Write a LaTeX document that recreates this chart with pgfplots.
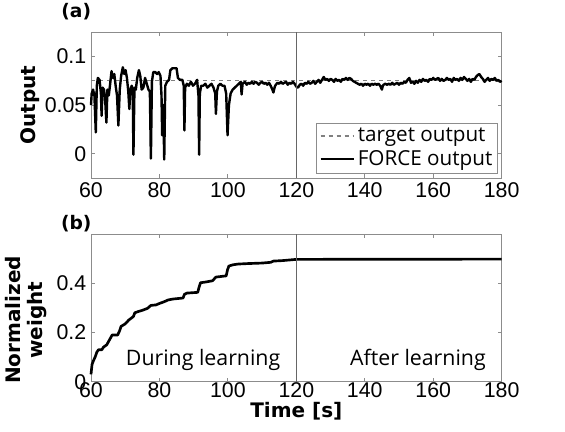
\documentclass[border=0pt]{standalone}
\usepackage{fontspec}
\setmainfont{Liberation Sans}
\newfontfamily\labelfont{Open Sans}
\newfontfamily\boldlabel{DejaVu Sans}
\usepackage{pgfplots}
\pgfplotsset{compat=1.18}

\definecolor{boxgray}{gray}{0.55}
\definecolor{divgray}{gray}{0.4}

\pgfplotsset{
  panel/.style={
    scale only axis, width=308pt, clip=false,
    xmin=60, xmax=180, xtick={60,80,...,180},
    axis line style={boxgray, line width=0.6pt},
    tick style={boxgray, line width=0.6pt},
    major tick length=3pt, tick align=inside,
    tick label style={font=\fontsize{16}{18}\selectfont},
    /pgf/number format/assume math mode=true,
    every axis y label/.style={at={(axis description cs:-0.148,0.5)}, rotate=90, anchor=center},
    label style={font=\boldlabel\bfseries\fontsize{15}{16}\selectfont},
  },
}

\begin{document}
\begin{tikzpicture}
\path[use as bounding box] (0,0) rectangle (423.75pt,-324pt);

% (a) output
\begin{axis}[panel, at={(68.25pt,-133.5pt)}, anchor=south west,
    height=109.3pt,
    ymin=-0.025, ymax=0.125, ytick={0,0.05,0.1},
    yticklabels={0,0.05,0.1},
    ylabel={Output},
    legend style={at={(axis description cs:0.991,0.034)}, anchor=south east,
      draw=boxgray, font=\labelfont\fontsize{15.5}{17}\selectfont,
      inner sep=2pt, row sep=1pt},
    legend image code/.code={\draw[#1] (0pt,0pt) -- (25pt,0pt);},
    legend cell align=left]
  \addplot[gray, dashed, line width=0.8pt] coordinates {(60,0.075) (180,0.075)};
  \addlegendentry{target output}
  \addplot[black, line width=1.8pt, line join=round] coordinates {
    (60.0,0.050) (60.2,0.062) (60.6,0.066) (61.0,0.060) (61.4,0.022) (61.7,0.070)
    (62.0,0.078) (62.5,0.076) (62.9,0.062) (63.1,0.039) (63.4,0.068) (63.8,0.066)
    (64.1,0.058) (64.5,0.032) (64.8,0.066) (65.2,0.060) (65.6,0.072) (66.0,0.085)
    (66.4,0.078) (66.8,0.082) (67.2,0.070) (67.6,0.060) (68.0,0.029) (68.4,0.066)
    (68.8,0.080) (69.3,0.089) (69.7,0.082) (70.1,0.086) (70.5,0.078) (70.9,0.064)
    (71.2,0.046) (71.5,0.066) (71.9,0.070) (72.2,0.064) (72.4,-0.001) (72.7,0.068)
    (73.1,0.066) (73.5,0.078) (74.0,0.086) (74.4,0.080) (74.8,0.066) (75.3,0.068)
    (75.8,0.078) (76.3,0.072) (76.8,0.066) (77.2,0.064) (77.5,-0.005) (77.8,0.074)
    (78.2,0.084) (78.8,0.084) (79.3,0.082) (79.8,0.084) (80.3,0.080) (80.6,0.060)
    (80.8,0.019) (81.1,0.050) (81.4,-0.006) (81.7,0.070) (82.2,0.074) (82.8,0.076)
    (83.2,0.086) (83.8,0.088) (84.5,0.088) (85.0,0.088) (85.4,0.078) (86.0,0.076)
    (86.7,0.076) (87.1,0.070) (87.3,0.024) (87.5,0.068) (88.0,0.072) (88.6,0.070)
    (89.2,0.074) (89.8,0.070) (90.4,0.072) (91.0,0.076) (91.4,0.060) (91.6,-0.001)
    (91.8,0.062) (92.2,0.070) (92.8,0.070) (93.4,0.072) (94.0,0.068) (94.6,0.070)
    (95.2,0.072) (95.8,0.068) (96.3,0.062) (96.5,0.041) (96.8,0.064) (97.2,0.070)
    (97.8,0.072) (98.4,0.070) (99.0,0.070) (99.5,0.062) (99.9,0.019) (100.3,0.050)
    (100.8,0.062) (101.4,0.066) (102.0,0.068) (102.6,0.070) (103.2,0.072) (103.8,0.074)
    (104.0,0.061) (104.3,0.072)
    (105,0.074) (105.5,0.071) (106,0.073) (106.5,0.072) (107,0.074) (107.5,0.072)
    (108,0.074) (108.5,0.073) (109,0.071) (109.5,0.073) (110,0.074) (110.5,0.072)
    (111,0.073) (111.5,0.071) (112,0.073) (112.5,0.070) (113,0.066) (113.3,0.063)
    (113.7,0.069) (114,0.071) (114.5,0.073) (115,0.072) (115.5,0.074) (116,0.072)
    (116.5,0.073) (117,0.074) (117.5,0.071) (118,0.073) (118.5,0.072) (119,0.074)
    (119.5,0.072) (120,0.069) (120.5,0.068) (121,0.071) (121.5,0.072) (122,0.070)
    (122.5,0.073) (123,0.072) (123.5,0.074) (124,0.072) (124.5,0.073) (125,0.075)
    (125.5,0.072) (126,0.074) (126.5,0.076) (127,0.073) (127.5,0.076) (128,0.079)
    (128.5,0.076) (129,0.077) (129.5,0.075) (130,0.077) (130.5,0.076) (131,0.074)
    (131.5,0.077) (132,0.075) (132.5,0.076) (133,0.074) (133.5,0.077) (134,0.076)
    (134.5,0.078) (135,0.076) (135.5,0.078) (136,0.077) (136.5,0.075) (137,0.074)
    (137.5,0.073) (138,0.072) (138.5,0.071) (139,0.072) (139.5,0.070) (140,0.072)
    (140.5,0.071) (141,0.072) (141.5,0.070) (142,0.072) (142.5,0.071) (143,0.072)
    (143.5,0.071) (144,0.072) (144.5,0.070) (145,0.066) (145.3,0.070) (145.5,0.071)
    (146,0.072) (146.5,0.071) (147,0.072) (147.5,0.071) (148,0.073) (148.5,0.071)
    (149,0.072) (149.5,0.073) (150,0.071) (150.5,0.073) (151,0.072) (151.5,0.074)
    (152,0.073) (152.5,0.076) (153,0.078) (153.5,0.073) (154,0.074) (154.5,0.072)
    (155,0.075) (155.5,0.073) (156,0.076) (156.5,0.074) (157,0.077) (157.5,0.075)
    (158,0.076) (158.5,0.074) (159,0.077) (159.5,0.076) (160,0.078) (160.5,0.076)
    (161,0.077) (161.5,0.078) (162,0.075) (162.5,0.077) (163,0.075) (163.5,0.076)
    (164,0.078) (164.5,0.076) (165,0.077) (165.5,0.074) (166,0.078) (166.5,0.076)
    (167,0.077) (167.5,0.075) (168,0.078) (168.5,0.076) (169,0.079) (169.5,0.077)
    (170,0.075) (170.5,0.077) (171,0.074) (171.5,0.077) (172,0.076) (172.5,0.079)
    (173,0.081) (173.5,0.082) (174,0.079) (174.5,0.077) (175,0.074) (175.5,0.076)
    (176,0.078) (176.5,0.075) (177,0.077) (177.5,0.076) (178,0.078) (178.5,0.075)
    (179,0.076) (179.5,0.074) (180,0.075)
  };
  \addlegendentry{FORCE output}
  \draw[divgray, line width=0.8pt] (axis cs:120,-0.025) -- (axis cs:120,0.125);
  \node at (axis description cs:-0.036,1.143) {\boldlabel\bfseries\fontsize{14}{16}\selectfont (a)};
\end{axis}

% (b) normalized weight
\begin{axis}[panel, at={(68.25pt,-286.3pt)}, anchor=south west,
    height=110.8pt,
    ymin=0, ymax=0.6, ytick={0,0.2,0.4},
    yticklabels={0,0.2,0.4},
    xticklabel style={yshift=3pt},
    ylabel={Normalized\\weight},
    ylabel style={align=center, at={(axis description cs:-0.158,0.418)}},
    xlabel={Time [s]},
    xlabel style={at={(axis description cs:0.5,-0.2)}, anchor=center}]
  \addplot[black, line width=2pt, line join=round] coordinates {
    (60,0.03) (60.3,0.07) (60.7,0.085) (61.2,0.10) (61.7,0.12) (62.2,0.13)
    (63.2,0.13) (63.6,0.14) (64.6,0.15) (65.2,0.165) (66.2,0.19) (67.8,0.19)
    (68.3,0.205) (68.8,0.225) (70.0,0.235) (71.0,0.25) (72.4,0.265) (72.8,0.28)
    (73.8,0.285) (75,0.29) (76.5,0.298) (77.5,0.31) (79,0.312) (80,0.318)
    (81.4,0.325) (82.5,0.332) (84,0.336) (86.9,0.34) (87.3,0.355) (88,0.36)
    (91.2,0.363) (91.6,0.385) (92,0.402) (93.5,0.405) (95.5,0.41) (96.5,0.425)
    (99.5,0.43) (99.9,0.455) (100.3,0.47) (101.5,0.475) (103,0.478) (106,0.48)
    (110,0.482) (112.5,0.485) (113.3,0.49) (116,0.492) (120,0.497) (180,0.498)
  };
  \draw[divgray, line width=0.8pt] (axis cs:120,0) -- (axis cs:120,0.6);
  \node[font=\labelfont\fontsize{16}{18}\selectfont] at (axis description cs:0.273,0.147) {During learning};
  \node[font=\labelfont\fontsize{16}{18}\selectfont] at (axis description cs:0.796,0.147) {After learning};
  \node at (axis description cs:-0.036,1.068) {\boldlabel\bfseries\fontsize{14}{16}\selectfont (b)};
\end{axis}
\end{tikzpicture}
\end{document}
